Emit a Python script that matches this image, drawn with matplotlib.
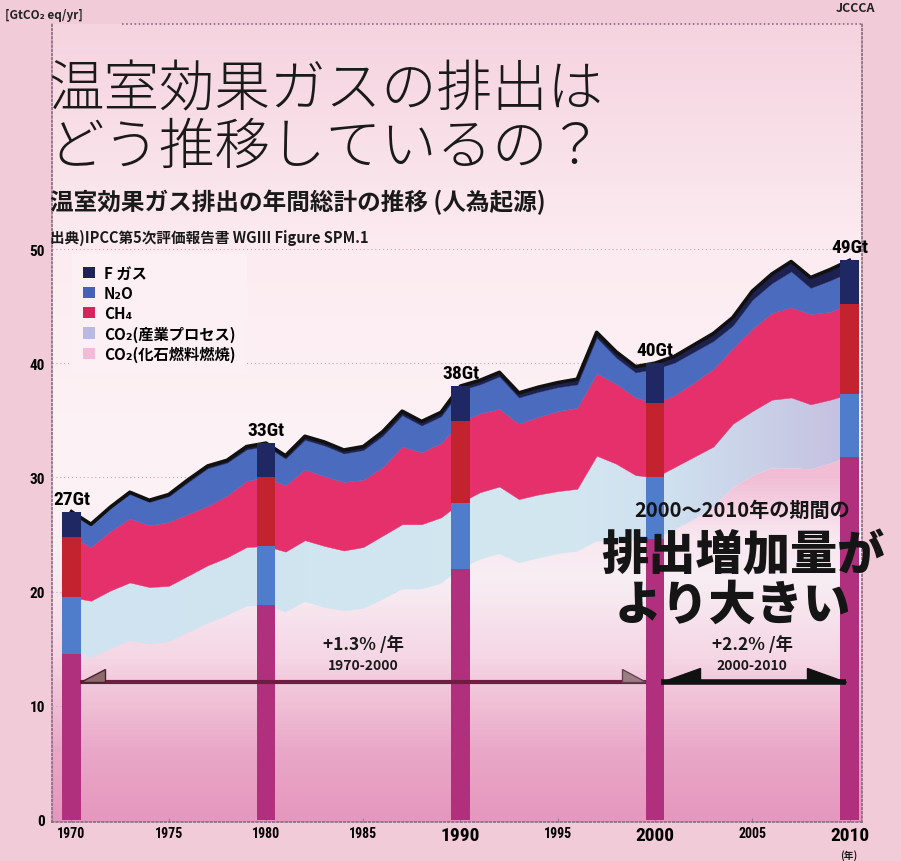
import numpy as np
import matplotlib.pyplot as plt
from matplotlib.colors import LinearSegmentedColormap
from matplotlib.lines import Line2D
from matplotlib.patches import Patch, Polygon

plt.rcParams["font.family"] = ["Noto Sans CJK JP", "DejaVu Sans"]
NARROW = ["Liberation Sans Narrow", "Roboto Condensed", "DejaVu Sans"]

# annual totals by gas, GtCO2eq/yr
YEARS = list(range(1970, 2011))
CO2_FOSSIL = [14.5, 14.2, 15.0, 15.7, 15.4, 15.6, 16.4, 17.2, 17.9, 18.7,
              18.8, 18.2, 19.1, 18.6, 18.3, 18.5, 19.3, 20.2, 20.2, 20.7,
              22.0, 22.8, 23.3, 22.5, 22.9, 23.3, 23.5, 24.4, 24.4, 24.5,
              24.6, 25.4, 26.3, 27.4, 29.1, 30.1, 30.8, 30.8, 30.7, 31.2,
              31.8]
CO2_FOLU = [5.0, 5.0, 5.1, 5.1, 5.0, 4.9, 5.0, 5.1, 5.1, 5.2,
            5.2, 5.3, 5.4, 5.4, 5.3, 5.4, 5.6, 5.7, 5.7, 5.8,
            5.8, 5.9, 5.9, 5.6, 5.6, 5.5, 5.5, 7.5, 6.8, 5.7,
            5.4, 5.5, 5.5, 5.3, 5.6, 5.7, 6.0, 6.2, 5.7, 5.6,
            5.5]
CH4 = [5.3, 4.7, 5.2, 5.6, 5.4, 5.6, 5.4, 5.2, 5.4, 5.8,
       6.0, 5.8, 6.2, 6.1, 6.0, 5.9, 6.0, 6.8, 6.3, 6.5,
       7.1, 6.9, 6.8, 6.6, 6.8, 7.0, 7.1, 7.2, 7.0, 6.8,
       6.5, 6.3, 6.5, 6.8, 6.6, 7.2, 7.6, 7.9, 7.9, 7.7,
       7.9]
N2O = [2.1, 1.9, 2.0, 2.15, 2.05, 2.25, 2.8, 3.3, 2.9, 2.75,
       2.75, 2.35, 2.6, 2.7, 2.5, 2.6, 2.75, 2.75, 2.35, 2.35,
       2.75, 2.55, 2.85, 2.3, 2.2, 2.1, 2.05, 3.15, 2.3, 2.2,
       3.0, 2.85, 2.7, 2.45, 2.0, 2.55, 2.6, 3.15, 2.3, 2.75,
       2.8]
F_GAS = [0.1, 0.1, 0.1, 0.15, 0.15, 0.15, 0.2, 0.2, 0.2, 0.25,
         0.25, 0.25, 0.3, 0.3, 0.3, 0.3, 0.35, 0.35, 0.35, 0.35,
         0.35, 0.35, 0.35, 0.4, 0.4, 0.4, 0.45, 0.45, 0.5, 0.5,
         0.5, 0.55, 0.6, 0.65, 0.7, 0.75, 0.8, 0.85, 0.9, 0.95,
         1.0]

BAR_YEARS = [1970, 1980, 1990, 2000, 2010]
X_TICKS = [1970, 1975, 1980, 1985, 1990, 1995, 2000, 2005, 2010]
BIG_TICKS = [1990, 2000, 2010]
Y_TICKS = [0, 10, 20, 30, 40, 50]
LEGEND_LABELS = ["F ガス", "N₂O", "CH₄", "CO₂(産業プロセス)", "CO₂(化石燃料燃焼)"]
PERIODS = [(1970, 2000, "+1.3% /年", "1970-2000"),
           (2000, 2010, "+2.2% /年", "2000-2010")]
ARROW_LEVEL = 12.1

AREA_COLORS = [None, None, "#e6306c", "#4b6bbf", "#1c2150"]
BAR_COLORS = ["#b0307e", "#4f7dcb", "#c3222f", "#1f2862", "#1f2862"]
LEGEND_COLORS = ["#1f2255", "#4662b8", "#d8245c", "#b9b9e2", "#f2bcd9"]

W, H = 901, 862


def fx(px):
    return px / W


def fy(py):
    return 1 - py / H


def shade(ax, poly, stops, extent, vertical, zorder):
    lo, hi = (extent[2], extent[3]) if vertical else (extent[0], extent[1])
    cmap = LinearSegmentedColormap.from_list(
        "shade", [((v - lo) / (hi - lo), c) for v, c in stops])
    ramp = np.linspace(0, 1, 256)
    img = ramp.reshape(-1, 1) if vertical else ramp.reshape(1, -1)
    im = ax.imshow(img, extent=extent, origin="lower", aspect="auto",
                   cmap=cmap, zorder=zorder, interpolation="bicubic")
    if poly is not None:
        im.set_clip_path(poly.get_paths()[0], ax.transData)
    return im


def harpoon(ax, tip_x, level, direction, length, height, color, edge):
    base_x = tip_x - direction * length
    ax.add_patch(Polygon([(tip_x, level), (base_x, level), (base_x, level + height)],
                         closed=True, facecolor=color, edgecolor=edge,
                         lw=1.0, zorder=5))


fig = plt.figure(figsize=(W / 100, H / 100), dpi=100, facecolor="#f2cbd9")
ax = fig.add_axes([fx(52), fy(823), fx(862) - fx(52), fy(25) - fy(823)])
x0, x1 = 1970 + (52 - 71.5) / 19.45, 1970 + (862 - 71.5) / 19.45
y0, y1 = (821 - 823) / 11.42, (821 - 25) / 11.42
extent = [x0, x1, y0, y1]

# paper-like background, pink at the bottom and pale in the middle
shade(ax, None, [(y0, "#e597bd"), (6, "#eaa8c8"), (14, "#f5d3e2"),
                 (22, "#fcecf2"), (30, "#fdf3f6"), (50, "#fcecf1"),
                 (y1, "#f5d3df")], extent, True, 0)
for v in Y_TICKS[1:]:
    ax.axhline(v, color="#c9a3b5", lw=0.8, ls=(0, (1, 2.5)), zorder=0.5)

years = np.array(YEARS)
layers = np.vstack([CO2_FOSSIL, CO2_FOLU, CH4, N2O, F_GAS])
tops = np.cumsum(layers, axis=0)
bottoms = tops - layers

fossil = ax.fill_between(years, bottoms[0], tops[0], facecolor="none",
                         edgecolor="none")
shade(ax, fossil, [(y0, "#e597bd"), (6, "#eaa8c8"), (14, "#f5d6e4"),
                   (21, "#f8eef4"), (25, "#f8e6ef"), (30, "#f1bdd5"),
                   (y1, "#f1bdd5")], extent, True, 1)
folu = ax.fill_between(years, bottoms[1], tops[1], facecolor="none",
                       edgecolor="none")
shade(ax, folu, [(x0, "#cfe3f0"), (1995, "#d3e7f1"), (2001, "#cfe0ef"),
                 (x1, "#c4bedf")], extent, False, 1.5)
for k in (2, 3, 4):
    ax.fill_between(years, bottoms[k], tops[k], facecolor=AREA_COLORS[k],
                    edgecolor=AREA_COLORS[k], lw=0.3, zorder=2)
ax.plot(years, tops[-1], color="#111111", lw=2.6, solid_joinstyle="round",
        zorder=2.5)

# highlighted years as stacked columns with their totals
for yr in BAR_YEARS:
    i = YEARS.index(yr)
    for k in range(layers.shape[0]):
        ax.bar(yr, layers[k, i], bottom=bottoms[k, i], width=0.95,
               color=BAR_COLORS[k], lw=0, zorder=4)
    total = tops[-1, i]
    ax.text(yr, total + 0.35, f"{total:.0f}Gt", ha="center", va="bottom",
            fontsize=14, fontweight="bold", family=NARROW,
            fontstretch="condensed", zorder=6)

# growth-rate arrows
(a0, a1, r1, p1), (b0, b1, r2, p2) = PERIODS
ax.plot([a0 + 0.45, a1 - 0.45], [ARROW_LEVEL] * 2, color="#6e1c40", lw=3,
        solid_capstyle="butt", zorder=5)
harpoon(ax, a0 + 0.45, ARROW_LEVEL, -1, 1.25, 1.15, "#8c6a6c", "#4a2030")
harpoon(ax, a1 - 0.45, ARROW_LEVEL, 1, 1.25, 1.15, "#9a7f86", "#6a4050")
ax.plot([b0 + 0.3, b1 - 0.2], [ARROW_LEVEL] * 2, color="#111111", lw=4,
        solid_capstyle="butt", zorder=5)
harpoon(ax, b0 + 0.3, ARROW_LEVEL, -1, 2.0, 1.25, "#111111", "#111111")
harpoon(ax, b1 - 0.2, ARROW_LEVEL, 1, 2.0, 1.25, "#111111", "#111111")
for lo, hi, rate, span in PERIODS:
    mid = (lo + hi) / 2
    ax.text(mid, 15.4, rate, ha="center", va="center", fontsize=12.5,
            fontweight="bold", color="#1a1a1a", zorder=6)
    ax.text(mid, 13.6, span, ha="center", va="center", fontsize=10,
            fontweight="bold", color="#1a1a1a", zorder=6)

ax.text(2004.5, 27.2, "2000～2010年の期間の", ha="center", va="center",
        fontsize=14.5, fontweight="bold", color="#151515", zorder=6)
ax.text(2004.5, 23.2, "排出増加量が", ha="center", va="center", fontsize=34,
        fontweight="heavy", color="#151515", zorder=6)
ax.text(2004.0, 18.9, "より大きい", ha="center", va="center", fontsize=34,
        fontweight="heavy", color="#151515", zorder=6)

ax.set_xlim(x0, x1)
ax.set_ylim(y0, y1)
ax.set_yticks(Y_TICKS)
ax.set_yticklabels([str(v) for v in Y_TICKS], fontsize=11, fontweight="bold",
                   family=NARROW, fontstretch="condensed")
ax.set_xticks(X_TICKS)
ax.set_xticklabels([str(v) for v in X_TICKS], fontweight="bold", family=NARROW,
                   fontstretch="condensed")
for lab, yr in zip(ax.get_xticklabels(), X_TICKS):
    lab.set_fontsize(14 if yr in BIG_TICKS else 10)
ax.tick_params(axis="y", length=0, pad=5)
ax.tick_params(axis="x", length=3, direction="in", color="#a08090", pad=3)
for side in ("left", "right", "bottom"):
    ax.spines[side].set_linestyle((0, (1, 1.5)))
    ax.spines[side].set_color("#8a6a80")
    ax.spines[side].set_linewidth(1.2)
ax.spines["top"].set_visible(False)
fig.add_artist(Line2D([fx(122), fx(862)], [fy(25), fy(25)], color="#8a6a80",
                      lw=1.2, ls=(0, (1, 1.5))))

handles = [Patch(facecolor=c, edgecolor="none") for c in LEGEND_COLORS]
leg = ax.legend(handles, LEGEND_LABELS, loc="upper left",
                bbox_to_anchor=(fx(72), fy(254)), bbox_transform=fig.transFigure,
                prop={"size": 11, "weight": "bold"}, handlelength=0.75,
                handleheight=0.75, handletextpad=0.6, labelspacing=0.28,
                borderpad=0.75, borderaxespad=0, frameon=True, fancybox=False,
                framealpha=1)
leg.get_frame().set_facecolor("#fcf0f4")
leg.get_frame().set_edgecolor("none")
leg.set_zorder(6)

fig.text(fx(5), fy(16), "[GtCO₂ eq/yr]", fontsize=8.5, fontweight="bold",
         va="center", ha="left", color="#222222")
fig.text(fx(855), fy(9), "JCCCA", fontsize=9, fontweight="bold",
         fontstyle="italic", va="center", ha="center", color="#222222")
fig.text(fx(48), fy(90), "温室効果ガスの排出は", fontsize=40, fontweight="light",
         va="center", ha="left", color="#1a1a1a")
fig.text(fx(48), fy(148), "どう推移しているの？", fontsize=40, fontweight="light",
         va="center", ha="left", color="#1a1a1a")
fig.text(fx(50), fy(202), "温室効果ガス排出の年間総計の推移 (人為起源)",
         fontsize=17, fontweight="bold", va="center", ha="left",
         color="#1a1a1a")
fig.text(fx(50), fy(238), "出典)IPCC第5次評価報告書 WGIII Figure SPM.1",
         fontsize=10.5, fontweight="bold", va="center", ha="left",
         color="#1a1a1a")
fig.text(fx(849), fy(856), "(年)", fontsize=7, fontweight="bold",
         va="center", ha="center", color="#1a1a1a")

fig.savefig("out.png", dpi=100, facecolor=fig.get_facecolor())
